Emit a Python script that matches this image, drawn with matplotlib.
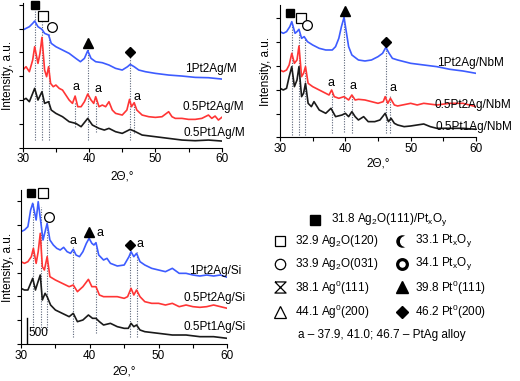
import matplotlib
matplotlib.use("Agg")
import matplotlib.pyplot as plt
from matplotlib.ticker import MultipleLocator

plt.rcParams['font.family'] = ['Liberation Sans', 'DejaVu Sans']
plt.rcParams['mathtext.fontset'] = 'custom'
plt.rcParams['mathtext.rm'] = 'Liberation Sans'
plt.rcParams['mathtext.it'] = 'Liberation Sans:italic'
plt.rcParams['mathtext.default'] = 'regular'

# --- panel M (top left) ---
m_blue_x = [30, 31, 31.5, 31.8, 32.3, 32.9, 33.3, 33.9, 34.3, 35, 36, 37, 38, 38.7, 39.3, 39.8, 40.3, 41, 42, 43, 44, 45,
            45.8, 46.2, 46.8, 47.5, 48.5, 50, 52, 54, 56, 58, 60]
m_blue_y = [2471, 2541, 2611, 2660, 2541, 2485, 2401, 2366, 2191, 2121, 2051, 1981, 1876, 1806, 1876, 2037, 1876, 1806,
            1785, 1736, 1666, 1631, 1701, 1750, 1701, 1631, 1596, 1561, 1526, 1505, 1477, 1470, 1442]
m_red_x = [30, 30.5, 31, 31.5, 31.8, 32.3, 32.6, 32.9, 33.3, 33.6, 33.9, 34.2, 34.6, 35, 35.5, 36, 36.5, 37, 37.5, 37.9,
           38.3, 38.8, 39.3, 39.8, 40.3, 40.7, 41.0, 41.5, 42, 42.5, 43, 43.5, 44, 45, 45.7, 46.1, 46.4, 46.8, 47.2, 48,
           49, 50, 51, 52, 52.5, 53, 54, 55, 56, 57, 58, 58.5, 59, 59.5, 60]
m_red_y = [1631, 1701, 1596, 1841, 2121, 1771, 1981, 2317, 1631, 1491, 1701, 1351, 1281, 1316, 1246, 1211, 1106, 1001,
           931, 1085, 861, 861, 966, 1127, 1001, 931, 1071, 861, 896, 861, 966, 791, 721, 686, 791, 1015, 861, 945, 791,
           686, 651, 637, 651, 756, 651, 616, 616, 595, 595, 616, 686, 616, 665, 581, 637]
m_black_x = [30, 30.5, 31, 31.5, 31.8, 32.3, 32.9, 33.3, 33.9, 34.3, 35, 36, 37, 38, 38.8, 39.8, 40.5, 41.5, 42.3, 43,
             44, 45, 46.2, 47, 48, 50, 52, 54, 56, 58, 60]
m_black_y = [1001, 1036, 966, 1141, 1246, 1001, 1176, 931, 966, 791, 721, 651, 546, 511, 441, 616, 476, 406, 371, 406,
             336, 301, 385, 336, 266, 231, 196, 161, 147, 161, 140]

# --- panel NbM (top right) ---
n_blue_x = [30, 30.5, 31, 31.5, 31.8, 32.3, 32.6, 32.9, 33.3, 33.7, 34.2, 35, 36, 37, 38, 38.5, 39, 39.4, 39.8, 40.1,
            40.5, 41, 42, 43, 44, 45, 45.7, 46.2, 46.7, 47.2, 48, 49, 50, 52, 54, 56, 58, 60]
n_blue_y = [2219, 2184, 2219, 2324, 2429, 2184, 2219, 2268, 2079, 2114, 2009, 1939, 1869, 1834, 1834, 1904, 2079, 2324,
            2520, 2254, 1904, 1729, 1624, 1603, 1624, 1694, 1764, 1890, 1764, 1659, 1624, 1589, 1554, 1519, 1484, 1428,
            1393, 1344]
n_red_x = [30, 30.5, 31, 31.4, 31.8, 32.2, 32.6, 32.9, 33.3, 33.6, 33.9, 34.3, 35, 36, 37, 37.5, 37.9, 38.3, 39, 39.8,
           40.5, 41.0, 41.5, 42, 43, 44, 45, 45.8, 46.1, 46.5, 46.9, 47.5, 48, 50, 51, 52, 54, 56, 58, 60]
n_red_y = [1414, 1379, 1414, 1519, 1764, 1554, 1624, 1918, 1274, 1344, 1484, 1134, 1064, 994, 924, 889, 994, 854, 819,
           854, 784, 889, 784, 798, 784, 749, 714, 749, 854, 714, 819, 679, 658, 714, 679, 714, 679, 714, 714, 644]
n_black_x = [30, 30.5, 31, 31.4, 31.8, 32.2, 32.6, 32.9, 33.3, 33.6, 33.9, 34.3, 34.8, 35.2, 36, 37, 37.8, 38.5, 39.5,
             40, 40.5, 41.0, 41.5, 42, 42.8, 43.5, 44.5, 45.3, 46.1, 46.6, 47, 47.5, 48, 49, 50, 51, 52, 53, 54, 56, 58,
             60]
n_black_y = [1029, 994, 1029, 1274, 1484, 1064, 1204, 1484, 854, 924, 1134, 714, 644, 749, 574, 504, 609, 434, 469, 504,
             434, 539, 434, 364, 434, 329, 329, 364, 504, 329, 399, 294, 259, 224, 238, 259, 280, 224, 189, 189, 189,
             168]

# --- panel Si (bottom left) ---
s_blue_x = [30, 30.5, 31, 31.4, 31.7, 32.0, 32.2, 32.5, 32.9, 33.2, 33.5, 33.8, 34.2, 34.7, 35.2, 35.7, 36.2, 36.7, 37.2,
            37.6, 38, 38.5, 39, 39.5, 39.9, 40.3, 40.6, 40.9, 41.3, 42, 42.5, 43, 44, 45, 45.7, 46.0, 46.4, 46.8, 47.3,
            48, 49, 50, 51, 52, 53, 54, 55, 56, 57, 58, 59, 60]
s_blue_y = [2359, 2394, 2464, 2814, 2954, 2744, 2604, 2989, 2534, 2184, 2359, 2534, 2184, 2079, 2009, 1974, 2030, 1939,
            1904, 1988, 1869, 1834, 1939, 2114, 2219, 2114, 2079, 2128, 1869, 1764, 1799, 1694, 1638, 1659, 1834, 1939,
            1834, 1904, 1729, 1659, 1589, 1554, 1519, 1589, 1484, 1484, 1449, 1428, 1449, 1428, 1449, 1400]
s_red_x = [30, 30.5, 31, 31.5, 31.8, 32.2, 32.5, 32.8, 33.1, 33.4, 33.8, 34.2, 35, 36, 37, 37.6, 38.2, 39, 39.8, 40.3,
           40.9, 41.4, 42, 43, 44, 45, 45.5, 46.0, 46.4, 46.8, 47.3, 48, 49, 50, 51, 52, 53, 54, 55, 56, 57, 58, 59, 60]
s_red_y = [1729, 1694, 1729, 1834, 2009, 1694, 1939, 2324, 1624, 1554, 1834, 1414, 1344, 1274, 1204, 1239, 1099, 1204,
           1358, 1204, 1204, 1029, 994, 994, 994, 959, 994, 1169, 1029, 1134, 994, 889, 854, 854, 819, 854, 784, 819,
           784, 770, 784, 819, 784, 749]
s_black_x = [30, 30.5, 31, 31.4, 31.7, 32.1, 32.4, 32.8, 33.1, 33.5, 33.8, 34.3, 35, 36, 37, 37.6, 38.2, 39, 39.8, 40.4,
             40.9, 41.4, 42, 43, 44, 45, 45.6, 46.0, 46.4, 46.8, 47.3, 48, 50, 52, 54, 56, 58, 60]
s_black_y = [1169, 1134, 1134, 1274, 1379, 1134, 1274, 1449, 924, 1064, 994, 819, 714, 644, 574, 644, 469, 504, 609, 539,
             539, 469, 399, 434, 364, 329, 329, 434, 364, 399, 294, 259, 224, 189, 189, 154, 154, 119]

m_names = ['1Pt2Ag/M', '0.5Pt2Ag/M', '0.5Pt1Ag/M']
n_names = ['1Pt2Ag/NbM', '0.5Pt2Ag/NbM', '0.5Pt1Ag/NbM']
s_names = ['1Pt2Ag/Si', '0.5Pt2Ag/Si', '0.5Pt1Ag/Si']

# phase symbols over the peaks: (kind, 2theta, height)
m_marks = [('sqf', 31.8, 2996), ('sqo', 33.0, 2765), ('cir', 34.4, 2527), ('tri', 39.8, 2205), ('dia', 46.2, 2016)]
n_marks = [('sqf', 31.6, 2604), ('sqo', 33.2, 2513), ('cir', 34.2, 2359), ('tri', 39.9, 2660), ('dia', 46.2, 2009)]
s_marks = [('sqf', 31.5, 3178), ('sqo', 33.2, 3164), ('cir', 34.1, 2660), ('tri', 39.9, 2359), ('dia', 45.9, 2079)]

# PtAg alloy "a" labels
m_alloy = [(38.0, 1267), (41.4, 1225), (47.3, 1057)]
n_alloy = [(37.8, 1148), (41.2, 1078), (47.3, 1029)]
s_alloy = [(37.5, 2163), (41.5, 2324), (47.3, 2100)]

# dotted guide lines: (2theta, from, to)
m_guides = [(31.8, 161, 2891), (32.9, 161, 2646), (33.9, 161, 2401), (37.9, 441, 966), (39.8, 161, 2121),
            (41.0, 336, 1071), (46.2, 161, 1911), (46.7, 301, 966)]
n_guides = [(31.8, 49, 2394), (32.9, 49, 2184), (33.9, 49, 2079), (37.9, 84, 959), (39.8, 119, 2499),
            (41.0, 84, 889), (46.2, 84, 1869), (46.9, 84, 889)]
s_guides = [(31.8, 294, 2954), (32.9, 294, 2884), (33.8, 294, 2534), (37.6, 154, 2044), (40.9, 224, 2009),
            (45.9, 154, 1939), (46.8, 154, 1939)]

legend_left = ['32.9 Ag$_2$O(120)', '33.9 Ag$_2$O(031)', '38.1 Ag$^0$(111)', '44.1 Ag$^0$(200)']
legend_right = ['33.1 Pt$_x$O$_y$', '34.1 Pt$_x$O$_y$', '39.8 Pt$^0$(111)', '46.2 Pt$^0$(200)']
legend_top = '31.8 Ag$_2$O(111)/Pt$_x$O$_y$'
legend_alloy = 'a \u2013 37.9, 41.0; 46.7 \u2013 PtAg alloy'

colors = ['#3d5cff', '#ff3535', '#1a1a1a']
FS = 8.5

mstyle = {
    'sqf': dict(marker='s', ms=6, mfc='black', mec='black'),
    'sqo': dict(marker='s', ms=6.5, mfc='white', mec='black', mew=0.9),
    'cir': dict(marker='o', ms=7, mfc='white', mec='black', mew=0.9),
    'tri': dict(marker='^', ms=6.5, mfc='black', mec='black'),
    'dia': dict(marker='D', ms=5.5, mfc='black', mec='black'),
}

fig = plt.figure(figsize=(5.2, 3.81), dpi=100)


def draw_panel(rect, ytop, curves, names, name_pos, marks, alloy, guides, xpad, ypad):
    ax = fig.add_axes(rect)
    for x0, y0, y1 in guides:
        ax.plot([x0, x0], [y0, y1], color='#5a6478', lw=0.8, ls=(0, (1, 1.3)), zorder=1)
    for (x, y), c in zip(curves, colors):
        ax.plot(x, y, color=c, lw=1.2, zorder=2)
    for name, (tx, ty) in zip(names, name_pos):
        ax.text(tx, ty, name, fontsize=FS, va='center', ha='left')
    for kind, px, py in marks:
        ax.plot([px], [py], ls='none', clip_on=False, zorder=3, **mstyle[kind])
    for ax_, ay in alloy:
        ax.text(ax_, ay, 'a', fontsize=FS + 0.5, ha='center', va='center')
    ax.set_xlim(30, 60)
    ax.set_ylim(0, ytop)
    ax.xaxis.set_major_locator(MultipleLocator(10))
    ax.xaxis.set_minor_locator(MultipleLocator(5))
    ax.yaxis.set_major_locator(MultipleLocator(500))
    ax.tick_params(which='both', direction='out', length=3, width=0.8, labelsize=FS, pad=1)
    ax.tick_params(axis='y', labelleft=False)
    for s in ['top', 'right']:
        ax.spines[s].set_visible(False)
    for s in ['left', 'bottom']:
        ax.spines[s].set_linewidth(0.8)
    ax.set_xlabel('2\u0398,\u00b0', fontsize=FS, labelpad=xpad)
    ax.set_ylabel('Intensity, a.u.', fontsize=FS, labelpad=ypad)
    return ax


draw_panel([0.0437, 0.6123, 0.3827, 0.3806], 3045,
           [(m_blue_x, m_blue_y), (m_red_x, m_red_y), (m_black_x, m_black_y)],
           m_names, [(54.5, 1645), (54.1, 847), (54.3, 315)], m_marks, m_alloy, m_guides, 4, 3)
draw_panel([0.5385, 0.6396, 0.3769, 0.3473], 2779,
           [(n_blue_x, n_blue_y), (n_red_x, n_red_y), (n_black_x, n_black_y)],
           n_names, [(54.1, 1568), (53.6, 672), (53.8, 210)], n_marks, n_alloy, n_guides, 2, 3)
ax3 = draw_panel([0.0404, 0.0971, 0.3968, 0.4042], 3234,
                 [(s_blue_x, s_blue_y), (s_red_x, s_red_y), (s_black_x, s_black_y)],
                 s_names, [(54.5, 1533), (53.6, 959), (53.6, 364)], s_marks, s_alloy, s_guides, 3, 2)
# 500 counts scale bar
ax3.plot([30.8, 30.8], [14, 539], color='black', lw=1)
ax3.text(31.1, 238, '500', fontsize=FS, va='center', ha='left')

# symbol key, drawn in pixel coordinates of the lower right quarter
lg = fig.add_axes([0.5, 0.0, 0.5, 190 / 381])
lg.set_xlim(260, 520)
lg.set_ylim(381, 190)
lg.axis('off')

lg.plot([315], [219], ls='none', **dict(mstyle['sqf'], ms=7))
lg.text(331, 219, legend_top, fontsize=FS, va='center')

left_keys = [dict(marker='s', ms=7.5, mfc='white', mec='black', mew=0.9),
             dict(marker='o', ms=7.5, mfc='white', mec='black', mew=0.9),
             dict(marker=[(-1, 1), (1, 1), (-1, -1), (1, -1), (-1, 1)], ms=8, mfc='none', mec='black', mew=0.9),
             dict(marker='^', ms=8, mfc='white', mec='black', mew=0.9)]
right_keys = [None,
              dict(marker='o', ms=7, mfc='white', mec='black', mew=2.3),
              dict(marker='^', ms=8, mfc='black', mec='black'),
              dict(marker='D', ms=6.5, mfc='black', mec='black')]
rows_y = [240, 263, 287, 312]
for yy, lab, key in zip(rows_y, legend_left, left_keys):
    lg.plot([280], [yy], ls='none', **key)
    lg.text(295, yy, lab, fontsize=FS, va='center')
for yy, lab, key in zip(rows_y, legend_right, right_keys):
    if key is None:
        # crescent: black disc cut by a white one
        lg.plot([402], [yy], ls='none', marker='o', ms=8, mfc='black', mec='black')
        lg.plot([404.5], [yy], ls='none', marker='o', ms=7, mfc='white', mec='white')
    else:
        lg.plot([402], [yy], ls='none', **key)
    lg.text(415, yy, lab, fontsize=FS, va='center')
lg.text(298, 335, legend_alloy, fontsize=FS, va='center')

fig.savefig('out.png', dpi=100)
